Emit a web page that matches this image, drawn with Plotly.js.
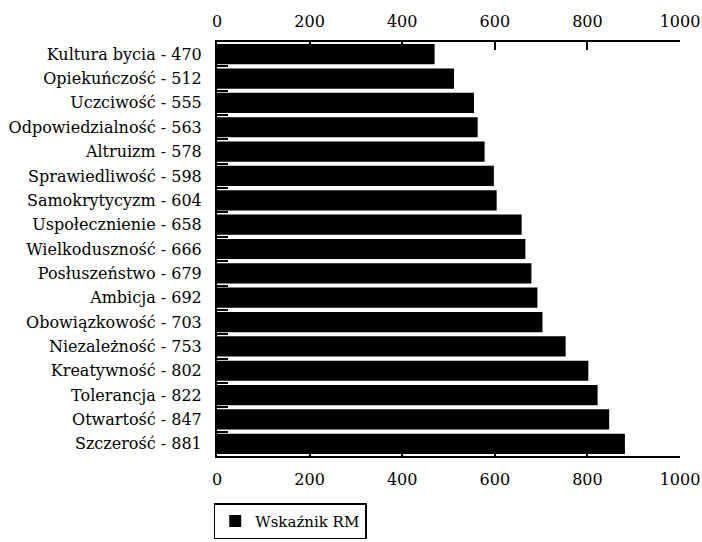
<!DOCTYPE html>
<html><head><meta charset="utf-8">
<script src="https://cdn.plot.ly/plotly-3.0.1.min.js"></script>
<style>body{margin:0;background:#fff}#c{width:702px;height:542px}</style>
</head><body><div id="c"></div>
<script>
const names = ["Kultura bycia","Opiekuńczość","Uczciwość","Odpowiedzialność","Altruizm","Sprawiedliwość","Samokrytycyzm","Uspołecznienie","Wielkoduszność","Posłuszeństwo","Ambicja","Obowiązkowość","Niezależność","Kreatywność","Tolerancja","Otwartość","Szczerość"];
const values = [470,512,555,563,578,598,604,658,666,679,692,703,753,802,822,847,881];
const seriesName = "Wskaźnik RM";
const xTicks = [0,200,400,600,800,1000];

const labels = names.map((n,i)=> n + " - " + values[i]);
const gapIdx = names.slice(1).map((_,i)=> i + 0.5);
const font = {family:"DejaVu Serif", size:16, color:"#000"};
const legFont = {family:"DejaVu Serif", size:15, color:"#000"};

const traces = [
  {type:"bar", orientation:"h", y:labels, x:values, name:seriesName,
   marker:{color:"#000"}, showlegend:true, xaxis:"x", yaxis:"y"},
  {type:"scatter", mode:"markers", x:values, y:values.map((_,i)=>i), xaxis:"x2", yaxis:"y2",
   marker:{opacity:0}, showlegend:false, hoverinfo:"skip"}
];
const layout = {
  width:702, height:542, paper_bgcolor:"#fff", plot_bgcolor:"#fff",
  margin:{l:217, r:22, t:42, b:86, autoexpand:false},
  font:font, bargap:0.17,
  showlegend:true,
  legend:{x:-0.007, y:-0.114, xanchor:"left", yanchor:"top", orientation:"h",
          bordercolor:"#000", borderwidth:1.5, font:legFont, itemwidth:30},
  xaxis:{range:[0,1000], tickvals:xTicks, ticks:"inside", ticklen:8, tickwidth:2, tickcolor:"#000",
         showline:true, linecolor:"#000", linewidth:2, showgrid:false, zeroline:false, side:"bottom",
         tickfont:font, ticklabelstandoff:8},
  xaxis2:{range:[0,1000], tickvals:xTicks, ticks:"inside", ticklen:8, tickwidth:2, tickcolor:"#000",
          showline:true, linecolor:"#000", linewidth:2, showgrid:false, zeroline:false,
          overlaying:"x", side:"top", tickfont:font, ticklabelstandoff:7},
  yaxis:{autorange:"reversed", type:"category", showline:true, linecolor:"#000", linewidth:2,
         ticks:"", showgrid:false, tickfont:font, ticklabelstandoff:10},
  yaxis2:{range:[16.5,-0.5], overlaying:"y", side:"left", tickvals:gapIdx, showticklabels:false,
          ticks:"inside", ticklen:11, tickwidth:2, tickcolor:"#000", showgrid:false, zeroline:false, showline:false}
};
Plotly.newPlot("c", traces, layout, {displayModeBar:false, staticPlot:true});
</script></body></html>
